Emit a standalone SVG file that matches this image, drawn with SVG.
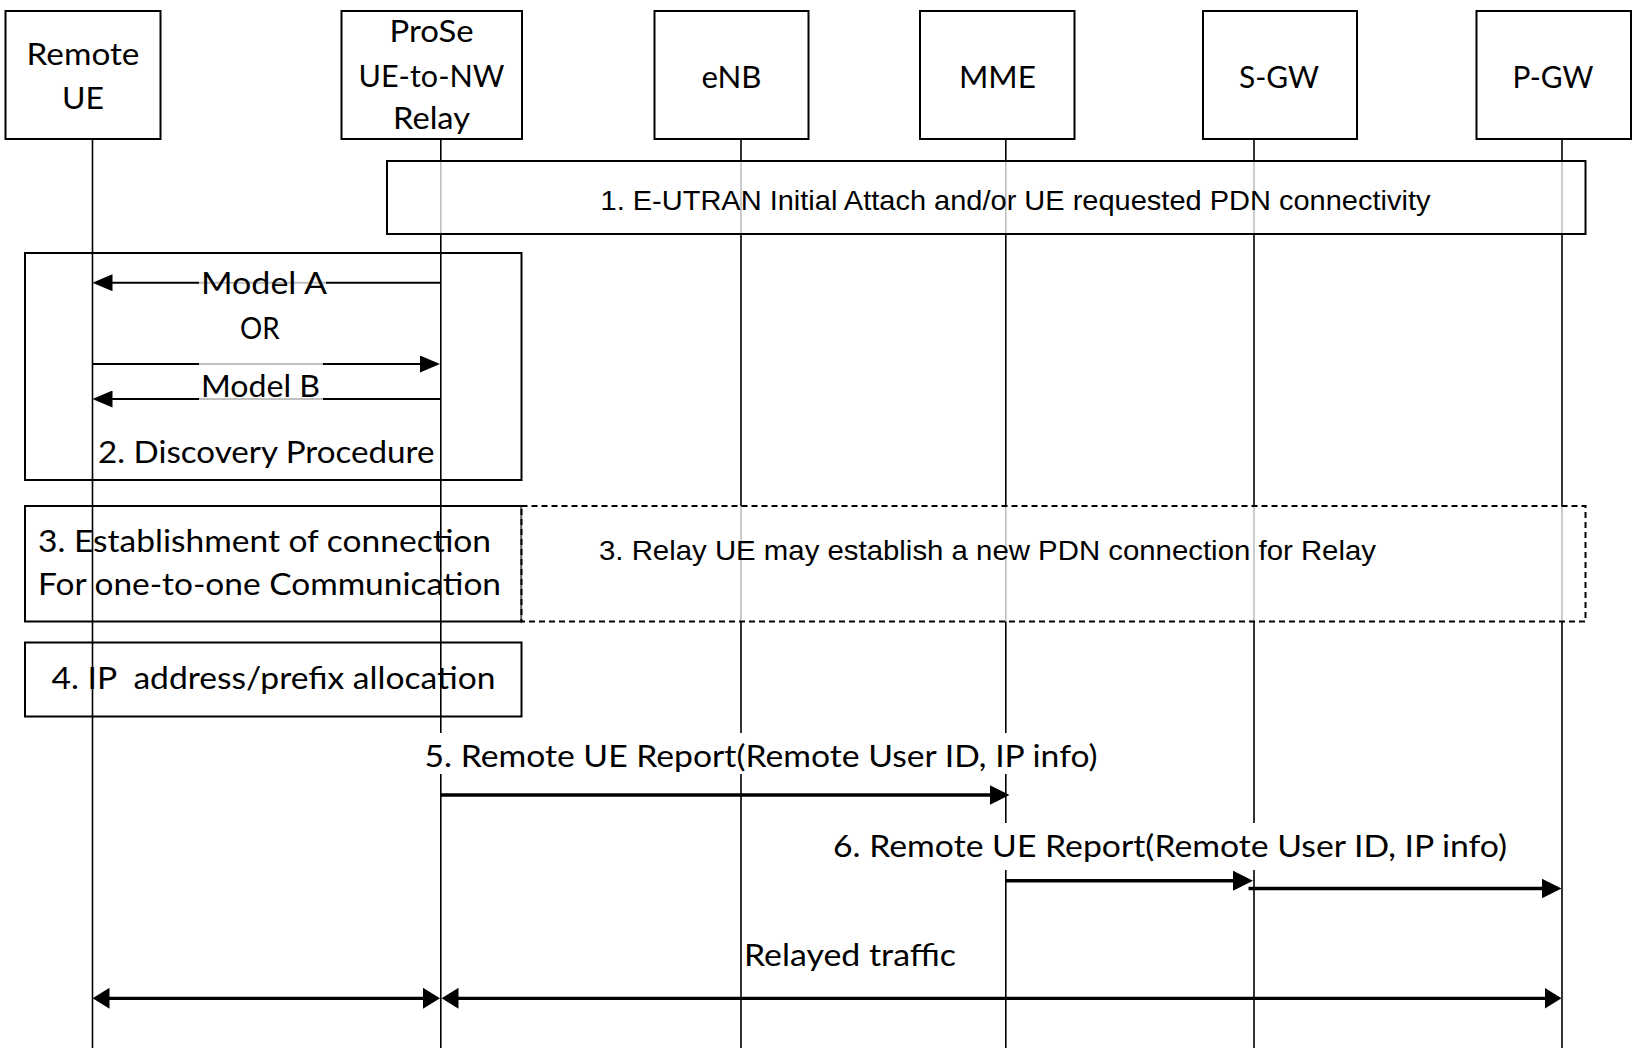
<svg xmlns="http://www.w3.org/2000/svg" width="1634" height="1053" viewBox="0 0 1634 1053">
<style>
.box{fill:#fff;stroke:#000;stroke-width:2}
.frame{fill:none;stroke:#000;stroke-width:2}
.veil{fill:#fff;fill-opacity:0.75;stroke:#000;stroke-width:2}
.dash{fill:#fff;fill-opacity:0.75;stroke:#000;stroke-width:2;stroke-dasharray:6 4}
.life{stroke:#000;stroke-width:1.6;fill:none}
.msg{stroke:#000;stroke-width:2;fill:none}
.msgT{stroke:#000;stroke-width:3.5;fill:none}
.rel{stroke:#000;stroke-width:3.2;fill:none}
.lbg{fill:#fff;fill-opacity:0.75;stroke:none}
.wbg{fill:#fff;stroke:none}
.t{font-family:Lato,"Open Sans",sans-serif;font-size:31.5px;fill:#000}
.a{font-family:"Liberation Sans",Arial,sans-serif;font-size:28px;fill:#000}
</style>
<defs>
<marker id="hS" markerUnits="userSpaceOnUse" markerWidth="20" markerHeight="17" refX="12" refY="8.5" orient="auto"><path d="M0,0 L20,8.5 L0,17 z" fill="#000"/></marker>
<marker id="hM" markerUnits="userSpaceOnUse" markerWidth="20" markerHeight="20" refX="12" refY="10" orient="auto"><path d="M0,0 L20,10 L0,20 z" fill="#000"/></marker>
<marker id="hR" markerUnits="userSpaceOnUse" markerWidth="17" markerHeight="21" refX="9" refY="10.5" orient="auto-start-reverse"><path d="M0,0 L17,10.5 L0,21 z" fill="#000"/></marker>
</defs>
<rect width="1634" height="1053" fill="#fff"/>

<g id="lifelines">
<line class="life" x1="92.5" y1="139" x2="92.5" y2="1048"/>
<line class="life" x1="440.8" y1="139" x2="440.8" y2="1048"/>
<line class="life" x1="741" y1="139" x2="741" y2="1048"/>
<line class="life" x1="1005.8" y1="139" x2="1005.8" y2="1048"/>
<line class="life" x1="1254" y1="139" x2="1254" y2="1048"/>
<line class="life" x1="1562" y1="139" x2="1562" y2="1048"/>
</g>

<g id="node-remote-ue">
<rect class="box" x="5.5" y="11" width="155" height="128"/>
<text class="t" x="83" y="65" text-anchor="middle" textLength="113" lengthAdjust="spacingAndGlyphs">Remote</text>
<text class="t" x="83" y="108.5" text-anchor="middle" textLength="42" lengthAdjust="spacingAndGlyphs">UE</text>
</g>
<g id="node-relay">
<rect class="box" x="341.5" y="11" width="180.5" height="128"/>
<text class="t" x="431.5" y="42" text-anchor="middle" textLength="84" lengthAdjust="spacingAndGlyphs">ProSe</text>
<text class="t" x="431.5" y="86.5" text-anchor="middle" textLength="146" lengthAdjust="spacingAndGlyphs">UE-to-NW</text>
<text class="t" x="431.5" y="129" text-anchor="middle" textLength="77" lengthAdjust="spacingAndGlyphs">Relay</text>
</g>
<g id="node-enb">
<rect class="box" x="654.5" y="11" width="154" height="128"/>
<text class="t" x="731.5" y="87.5" text-anchor="middle" textLength="60" lengthAdjust="spacingAndGlyphs">eNB</text>
</g>
<g id="node-mme">
<rect class="box" x="920" y="11" width="154.5" height="128"/>
<text class="t" x="997.5" y="87.5" text-anchor="middle" textLength="77" lengthAdjust="spacingAndGlyphs">MME</text>
</g>
<g id="node-sgw">
<rect class="box" x="1203" y="11" width="154" height="128"/>
<text class="t" x="1279" y="87.5" text-anchor="middle" textLength="80" lengthAdjust="spacingAndGlyphs">S-GW</text>
</g>
<g id="node-pgw">
<rect class="box" x="1476.5" y="11" width="154.5" height="128"/>
<text class="t" x="1553" y="87.5" text-anchor="middle" textLength="81" lengthAdjust="spacingAndGlyphs">P-GW</text>
</g>

<g id="step1">
<rect class="veil" x="387" y="161" width="1198.5" height="73"/>
<text class="a" x="600.5" y="210" textLength="830" lengthAdjust="spacingAndGlyphs">1. E-UTRAN Initial Attach and/or UE requested PDN connectivity</text>
</g>

<g id="step2">
<rect class="frame" x="25" y="253" width="496.5" height="227"/>
<text class="t" x="98" y="462.7" textLength="336.5" lengthAdjust="spacingAndGlyphs">2. Discovery Procedure</text>
</g>

<g id="step3a">
<rect class="frame" x="25" y="506" width="496.5" height="115.5"/>
<text class="t" x="38" y="552" textLength="453" lengthAdjust="spacingAndGlyphs">3. Establishment of connection</text>
<text class="t" x="38" y="595" textLength="463" lengthAdjust="spacingAndGlyphs">For one-to-one Communication</text>
</g>

<g id="step3b">
<rect class="dash" x="521.5" y="506" width="1064" height="115.5"/>
<text class="a" x="599" y="559.5" textLength="777" lengthAdjust="spacingAndGlyphs">3. Relay UE may establish a new PDN connection for Relay</text>
</g>

<g id="step4">
<rect class="frame" x="25" y="642.5" width="496.5" height="74"/>
<text class="t" x="51.5" y="689" textLength="444" lengthAdjust="spacingAndGlyphs" xml:space="preserve" style="white-space:pre">4. IP  address/prefix allocation</text>
</g>

<g id="connectors">
<line class="msg" x1="440.8" y1="282.7" x2="100.5" y2="282.7" marker-end="url(#hS)"/>
<line class="msg" x1="92.5" y1="364" x2="432" y2="364" marker-end="url(#hS)"/>
<line class="msg" x1="440.8" y1="399" x2="100.5" y2="399" marker-end="url(#hS)"/>
<line class="msgT" x1="440.8" y1="795" x2="1001.5" y2="795" marker-end="url(#hM)"/>
<line class="msgT" x1="1005.8" y1="880.7" x2="1245" y2="880.7" marker-end="url(#hM)"/>
<line class="msgT" x1="1248.5" y1="888.5" x2="1553.5" y2="888.5" marker-end="url(#hM)"/>
<line class="rel" x1="100.5" y1="998.3" x2="432" y2="998.3" marker-start="url(#hR)" marker-end="url(#hR)"/>
<line class="rel" x1="449.5" y1="998.3" x2="1553.5" y2="998.3" marker-start="url(#hR)" marker-end="url(#hR)"/>
</g>

<g id="connector-labels">
<rect class="lbg" x="199" y="270" width="127" height="26"/>
<text class="t" x="201" y="294" textLength="126" lengthAdjust="spacingAndGlyphs">Model A</text>
<text class="t" x="240" y="338.5" textLength="39.6" lengthAdjust="spacingAndGlyphs">OR</text>
<rect class="lbg" x="199" y="360" width="124" height="42"/>
<text class="t" x="201" y="397" textLength="119" lengthAdjust="spacingAndGlyphs">Model B</text>
<rect class="wbg" x="420" y="733" width="682" height="41"/>
<text class="t" x="424.5" y="767" textLength="673" lengthAdjust="spacingAndGlyphs">5. Remote UE Report(Remote User ID, IP info)</text>
<rect class="wbg" x="829" y="823" width="682" height="47"/>
<text class="t" x="833" y="857" textLength="674" lengthAdjust="spacingAndGlyphs">6. Remote UE Report(Remote User ID, IP info)</text>
<text class="t" x="744" y="966" textLength="212" lengthAdjust="spacingAndGlyphs">Relayed traffic</text>
</g>
</svg>
